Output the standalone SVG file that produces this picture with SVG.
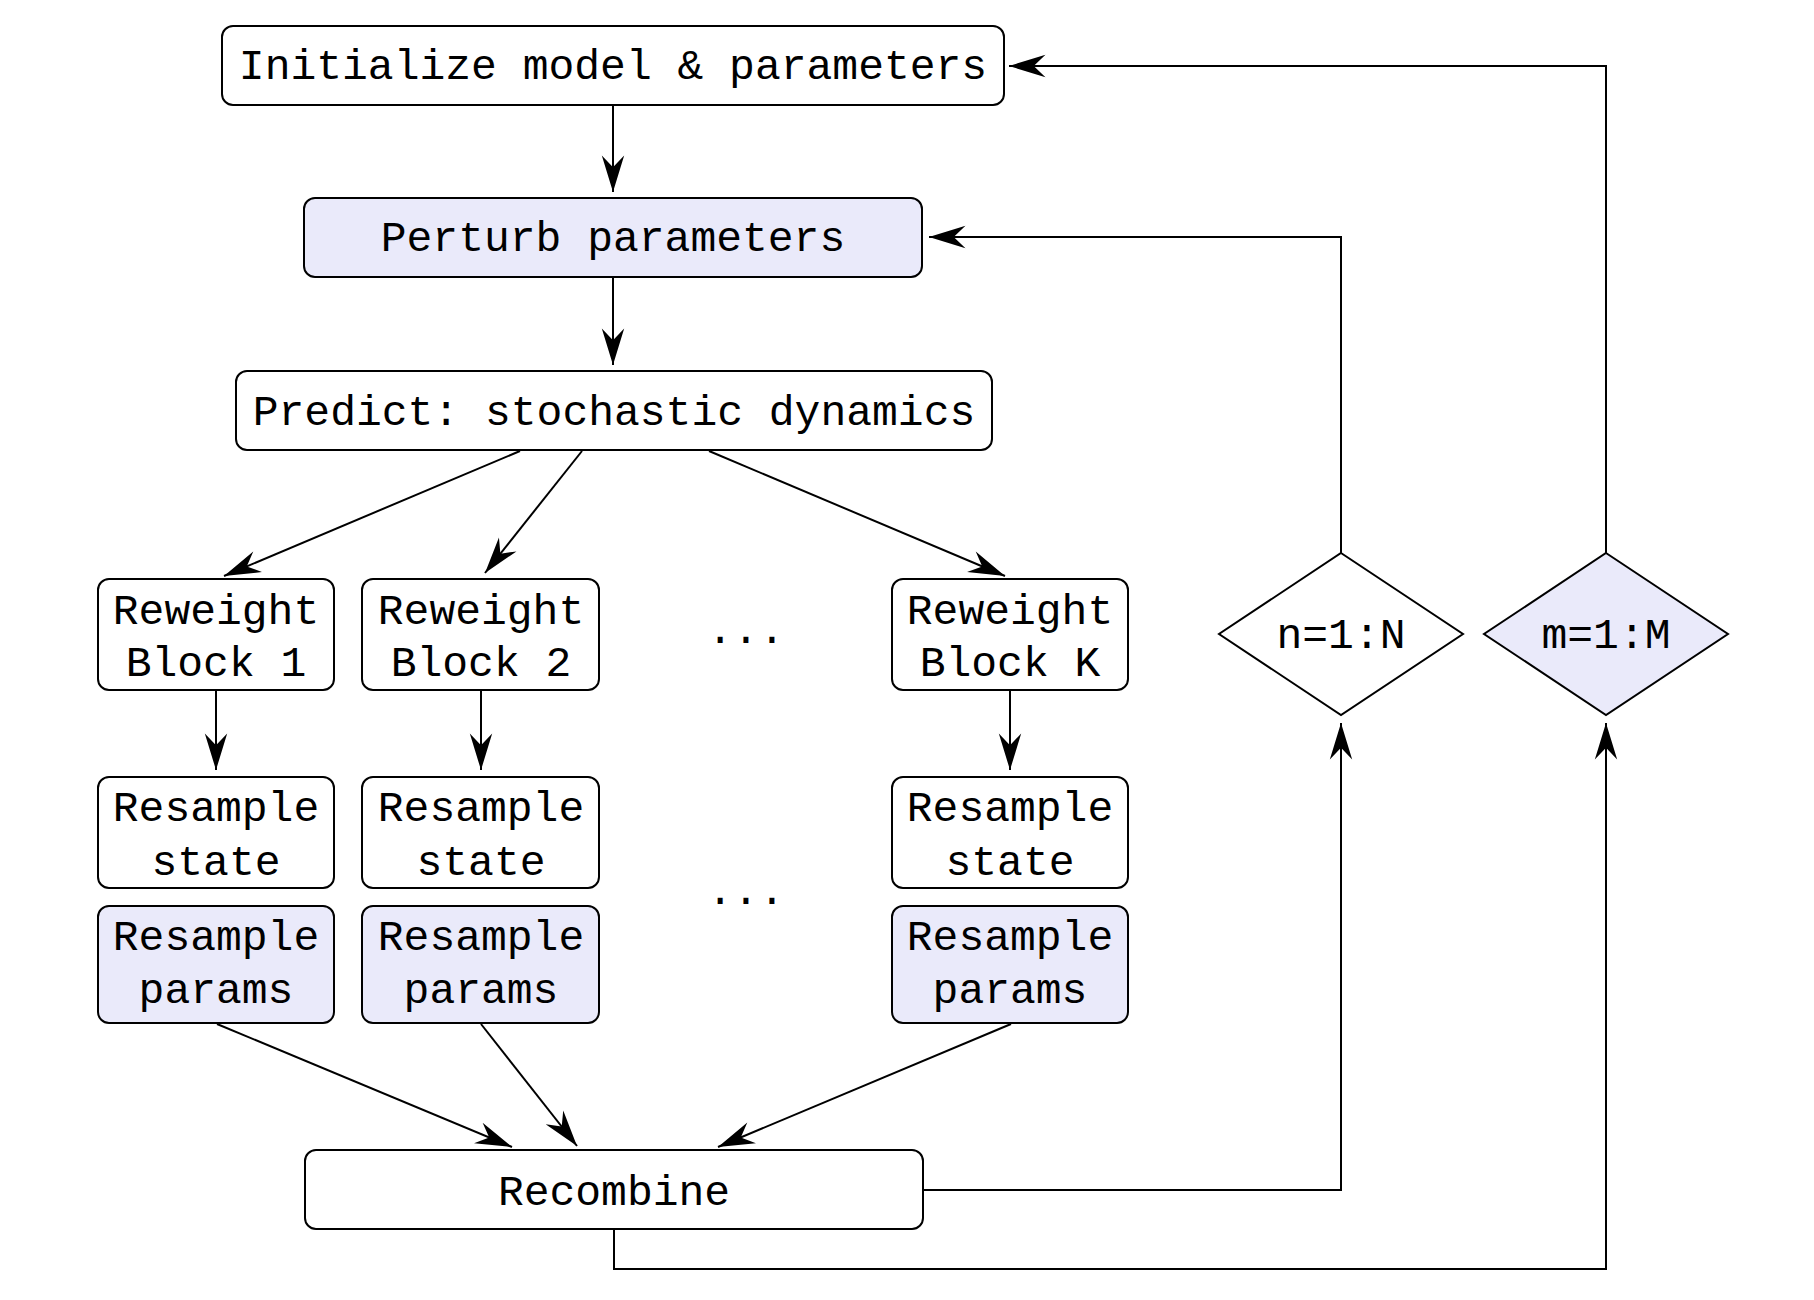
<svg xmlns="http://www.w3.org/2000/svg" width="1814" height="1300" viewBox="0 0 1814 1300">
<style>
.box{fill:#ffffff;stroke:#000;stroke-width:2}
.hl{fill:#eaeafa;stroke:#000;stroke-width:2}
.lbl{font-family:"Liberation Mono","Courier New",monospace;font-size:43px;text-anchor:middle;fill:#000}
.con{fill:none;stroke:#000;stroke-width:2}
</style>
<defs>
<marker id="ah" markerUnits="userSpaceOnUse" markerWidth="40" markerHeight="30" viewBox="-32 -12 34 24" refX="0" refY="0" orient="auto">
<path d="M0,0 L-31,-9.5 L-21,0 L-31,9.5 Z" fill="#000"/>
</marker>
</defs>
<rect width="1814" height="1300" fill="#fff"/>
<g id="init"><rect class="box" x="222" y="26" width="782" height="79" rx="11"/><text class="lbl" x="613" y="79">Initialize model &amp; parameters</text></g>
<g id="perturb"><rect class="hl" x="304" y="198" width="618" height="79" rx="11"/><text class="lbl" x="613" y="251">Perturb parameters</text></g>
<g id="predict"><rect class="box" x="236" y="371" width="756" height="79" rx="11"/><text class="lbl" x="614" y="425">Predict: stochastic dynamics</text></g>
<g id="rw1"><rect class="box" x="98" y="579" width="236" height="111" rx="11"/><text class="lbl" x="216" y="624">Reweight</text><text class="lbl" x="216" y="676">Block 1</text></g>
<g id="rw2"><rect class="box" x="362" y="579" width="237" height="111" rx="11"/><text class="lbl" x="481" y="624">Reweight</text><text class="lbl" x="481" y="676">Block 2</text></g>
<g id="rwK"><rect class="box" x="892" y="579" width="236" height="111" rx="11"/><text class="lbl" x="1010" y="624">Reweight</text><text class="lbl" x="1010" y="676">Block K</text></g>
<g id="dots1"><text class="lbl" x="746" y="643">...</text></g>
<g id="rs1"><rect class="box" x="98" y="777" width="236" height="111" rx="11"/><text class="lbl" x="216" y="821">Resample</text><text class="lbl" x="216" y="875">state</text></g>
<g id="rs2"><rect class="box" x="362" y="777" width="237" height="111" rx="11"/><text class="lbl" x="481" y="821">Resample</text><text class="lbl" x="481" y="875">state</text></g>
<g id="rsK"><rect class="box" x="892" y="777" width="236" height="111" rx="11"/><text class="lbl" x="1010" y="821">Resample</text><text class="lbl" x="1010" y="875">state</text></g>
<g id="dots2"><text class="lbl" x="746" y="904">...</text></g>
<g id="rp1"><rect class="hl" x="98" y="906" width="236" height="117" rx="11"/><text class="lbl" x="216" y="950">Resample</text><text class="lbl" x="216" y="1003">params</text></g>
<g id="rp2"><rect class="hl" x="362" y="906" width="237" height="117" rx="11"/><text class="lbl" x="481" y="950">Resample</text><text class="lbl" x="481" y="1003">params</text></g>
<g id="rpK"><rect class="hl" x="892" y="906" width="236" height="117" rx="11"/><text class="lbl" x="1010" y="950">Resample</text><text class="lbl" x="1010" y="1003">params</text></g>
<g id="recombine"><rect class="box" x="305" y="1150" width="618" height="79" rx="11"/><text class="lbl" x="614" y="1205">Recombine</text></g>
<g id="loopN"><polygon class="box" points="1341,553 1463,634 1341,715 1219,634"/><text class="lbl" x="1341" y="648">n=1:N</text></g>
<g id="loopM"><polygon class="hl" points="1606,553 1728,634 1606,715 1484,634"/><text class="lbl" x="1606" y="648">m=1:M</text></g>
<g id="connectors">
<path class="con" marker-end="url(#ah)" d="M613,105 V192"/>
<path class="con" marker-end="url(#ah)" d="M613,277 V365"/>
<path class="con" marker-end="url(#ah)" d="M520,451 L224,576"/>
<path class="con" marker-end="url(#ah)" d="M582,451 L485,573"/>
<path class="con" marker-end="url(#ah)" d="M709,451 L1005,576"/>
<path class="con" marker-end="url(#ah)" d="M216,690 V770"/>
<path class="con" marker-end="url(#ah)" d="M481,690 V770"/>
<path class="con" marker-end="url(#ah)" d="M1010,690 V770"/>
<path class="con" marker-end="url(#ah)" d="M217,1024 L512,1147"/>
<path class="con" marker-end="url(#ah)" d="M481,1024 L577,1146"/>
<path class="con" marker-end="url(#ah)" d="M1011,1024 L718,1147"/>
<path class="con" marker-end="url(#ah)" d="M923,1190 H1341 V723"/>
<path class="con" marker-end="url(#ah)" d="M614,1229 V1269 H1606 V723"/>
<path class="con" marker-end="url(#ah)" d="M1341,553 V237 H929"/>
<path class="con" marker-end="url(#ah)" d="M1606,553 V66 H1009"/>
</g>
</svg>
